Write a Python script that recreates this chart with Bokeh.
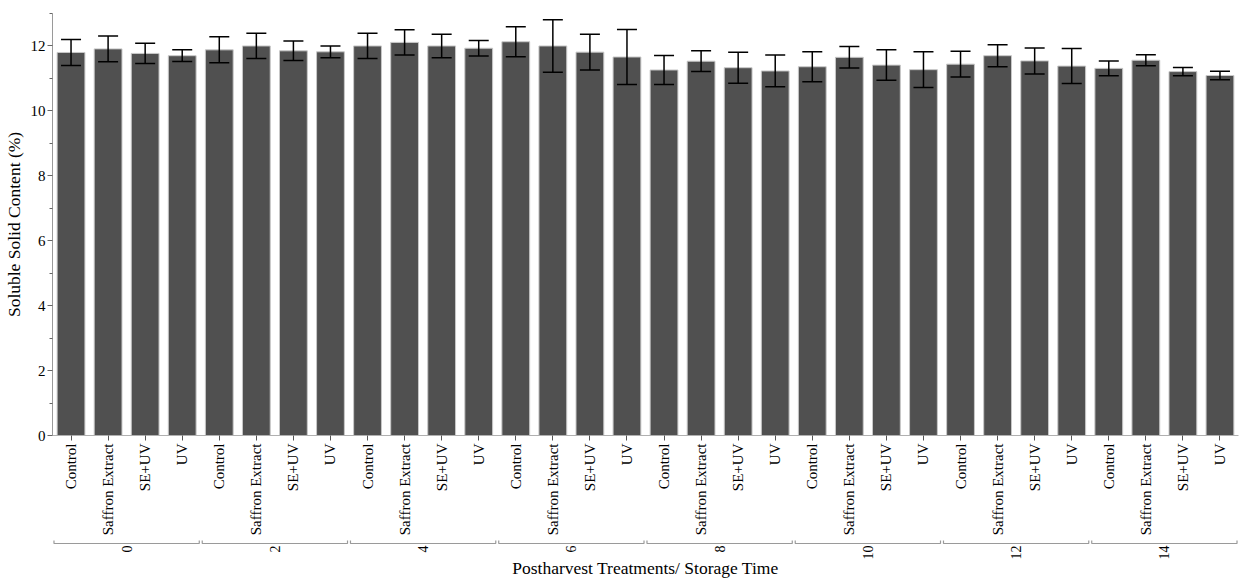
import math
from bokeh.plotting import figure
from bokeh.layouts import column
from bokeh.models import (ColumnDataSource, FactorRange, Range1d, Whisker, TeeHead,
                          FixedTicker)
from bokeh.core.properties import value
from bokeh.embed import file_html
from bokeh.resources import INLINE

days = ["0", "2", "4", "6", "8", "10", "12", "14"]
treatments = ["Control", "Saffron Extract", "SE+UV", "UV"]

mean_control = [11.80, 11.88, 12.00, 12.13, 11.26, 11.36, 11.44, 11.31]
mean_saffron = [11.91, 12.00, 12.11, 12.00, 11.53, 11.65, 11.70, 11.56]
mean_seuv = [11.77, 11.85, 12.00, 11.81, 11.33, 11.41, 11.54, 11.21]
mean_uv = [11.70, 11.82, 11.93, 11.66, 11.23, 11.27, 11.38, 11.09]

err_control = [0.40, 0.40, 0.39, 0.46, 0.45, 0.46, 0.40, 0.23]
err_saffron = [0.40, 0.39, 0.39, 0.81, 0.32, 0.33, 0.34, 0.17]
err_seuv = [0.31, 0.30, 0.36, 0.55, 0.48, 0.47, 0.40, 0.13]
err_uv = [0.18, 0.18, 0.24, 0.85, 0.49, 0.55, 0.54, 0.13]

y_ticks = [0, 2, 4, 6, 8, 10, 12]
y_minor = [1, 3, 5, 7, 9, 11, 13]

x_title = "Postharvest Treatments/ Storage Time"
y_title = "Soluble Solid Content (%)"

means_by_t = [mean_control, mean_saffron, mean_seuv, mean_uv]
errs_by_t = [err_control, err_saffron, err_seuv, err_uv]

xs, tops, lows, ups = [], [], [], []
for di, d in enumerate(days):
    for ti, t in enumerate(treatments):
        xs.append((d, t))
        m = means_by_t[ti][di]
        e = errs_by_t[ti][di]
        tops.append(m)
        lows.append(m - e)
        ups.append(m + e)

src = ColumnDataSource(data=dict(x=xs, top=tops, lower=lows, upper=ups))

FONT = "'Liberation Serif', 'Times New Roman', serif"
W = 1240
LEFT, RIGHT = 48, 2
TOP = 13
FRAME_H = 422
P_H = 538
Q_H = 41

x_range = FactorRange(*xs, range_padding=0, factor_padding=0, group_padding=0,
                      subgroup_padding=0)
p = figure(x_range=x_range, y_range=Range1d(0, 13), width=W, height=P_H,
           output_backend="svg", toolbar_location=None,
           min_border_left=LEFT, min_border_right=RIGHT, min_border_top=TOP,
           min_border_bottom=P_H - TOP - FRAME_H)

p.vbar(x="x", top="top", width=0.75, source=src, fill_color="#505050",
       line_color="#c8c8c8", line_width=1)

p.add_layout(Whisker(source=src, base="x", lower="lower", upper="upper",
                     level="annotation",
                     line_color="black", line_width=1.5,
                     upper_head=TeeHead(size=20, line_color="black", line_width=1.5),
                     lower_head=TeeHead(size=20, line_color="black", line_width=1.5)))

p.xgrid.grid_line_color = None
p.ygrid.grid_line_color = None
p.outline_line_color = None

yax = p.yaxis[0]
yax.ticker = FixedTicker(ticks=y_ticks, minor_ticks=y_minor)
yax.axis_label = y_title
yax.axis_label_text_font = FONT
yax.axis_label_text_font_size = "17.5px"
yax.axis_label_text_font_style = "normal"
yax.axis_label_text_color = "black"
yax.axis_label_standoff = 4
yax.major_label_text_font = FONT
yax.major_label_text_font_size = "15px"
yax.major_label_text_color = "black"
yax.major_label_standoff = 2
yax.axis_line_color = "#9a9a9a"
yax.major_tick_line_color = "#666666"
yax.minor_tick_line_color = "#666666"
yax.major_tick_in = 0
yax.major_tick_out = 5
yax.minor_tick_in = 0
yax.minor_tick_out = 3

xax = p.xaxis[0]
xax.major_label_orientation = math.pi / 2
xax.major_label_text_font = FONT
xax.major_label_text_font_size = "15px"
xax.major_label_text_color = "black"
xax.group_text_font_size = "0px"
xax.group_text_alpha = 0
xax.axis_line_color = "#b0b0b0"
xax.major_tick_line_color = "#555555"
xax.major_tick_in = 0
xax.major_tick_out = 5
xax.major_label_standoff = 3
xax.separator_line_color = None

# lower strip: group brackets, storage-time labels and the axis title
q = figure(x_range=x_range, y_range=Range1d(Q_H, 0), width=W, height=Q_H,
           output_backend="svg", toolbar_location=None,
           min_border_left=LEFT, min_border_right=RIGHT, min_border_top=0,
           min_border_bottom=0)
q.xaxis.visible = False
q.yaxis.visible = False
q.xgrid.grid_line_color = None
q.ygrid.grid_line_color = None
q.outline_line_color = None

n_t = len(treatments)
gap = 0.04
br_xs, br_ys = [], []
for i in range(len(days)):
    x0, x1 = i * n_t + gap, (i + 1) * n_t - gap
    br_xs.append([x0, x0, x1, x1])
    br_ys.append([2, 5, 5, 2])
q.multi_line(xs=br_xs, ys=br_ys, line_color="#9a9a9a", line_width=1.2)

q.text(x=days, y=[7] * len(days), text=days, angle=math.pi / 2,
       text_align="right", text_baseline="middle",
       text_font=value(FONT), text_font_size="14px", text_color="black")

q.text(x=[len(xs) / 2], y=[29], text=[x_title], text_align="center",
       text_baseline="middle", text_font=value(FONT), text_font_size="17.5px",
       text_color="black")

layout = column(p, q, spacing=0)
open("out.html", "w").write(file_html(layout, INLINE))
